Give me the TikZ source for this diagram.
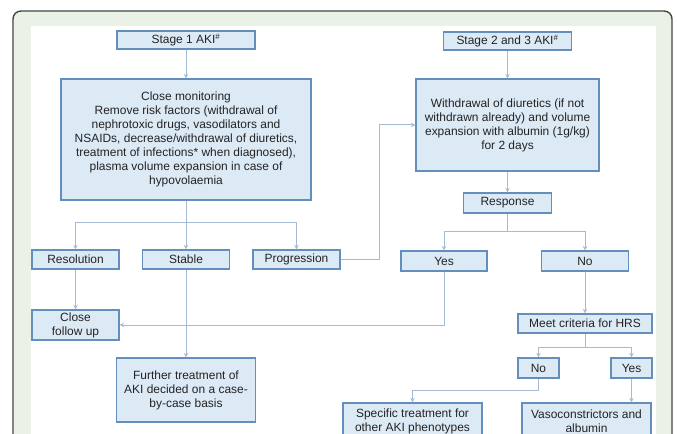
\documentclass[tikz,border=0pt]{standalone}
\usepackage{fontspec}
\setmainfont{Liberation Sans}
\usetikzlibrary{arrows.meta}
\definecolor{boxfill}{RGB}{220,234,246}
\definecolor{boxdraw}{RGB}{100,142,188}
\definecolor{conn}{RGB}{164,187,210}
\definecolor{txt}{RGB}{35,35,35}
\definecolor{framebg}{RGB}{234,242,232}
\definecolor{framedraw}{RGB}{70,70,70}
\tikzset{
  bx/.style={draw=boxdraw, fill=boxfill, line width=1.2bp, inner sep=0pt, align=center,
    text=txt, font=\fontsize{12}{14}\selectfont},
  con/.style={draw=conn, line width=1bp},
  arr/.style={con, -{Stealth[length=4.5bp,width=4.5bp]}}
}
\begin{document}
\begin{tikzpicture}[x=1bp,y=-1bp]
\useasboundingbox (0,0) rectangle (677,434);
\clip (0,0) rectangle (677,434);
\fill[white] (0,0) rectangle (677,434);
\draw[rounded corners=8bp, fill=framebg, draw=framedraw, line width=1.4bp] (13,11) rectangle (672,470);
\fill[white] (31,26) rectangle (656,470);

% left column
\node[bx, minimum width=138bp, minimum height=18bp] (s1) at (186,40) {Stage 1 AKI\textsuperscript{\#}};
\node[bx, minimum width=250bp, minimum height=121bp] (cm) at (186,139.5)
  {Close monitoring\\Remove risk factors (withdrawal of\\nephrotoxic drugs, vasodilators and\\NSAIDs, decrease/withdrawal of diuretics,\\treatment of infections* when diagnosed),\\plasma volume expansion in case of\\hypovolaemia};
\node[bx, minimum width=87bp, minimum height=19bp] (res) at (75.5,259.5) {Resolution};
\node[bx, minimum width=87bp, minimum height=19bp] (stab) at (186,259.5) {Stable};
\node[bx, minimum width=87bp, minimum height=19bp] (prog) at (296.5,259.5) {Progression};
\node[bx, minimum width=87bp, minimum height=30bp] (cfu) at (75.5,325) {Close\\follow up};
\node[bx, minimum width=139bp, minimum height=64bp] (ft) at (186,390) {Further treatment of\\AKI decided on a case-\\by-case basis};

% right column
\node[bx, minimum width=128bp, minimum height=18bp] (s2) at (507.5,41) {Stage 2 and 3 AKI\textsuperscript{\#}};
\node[bx, minimum width=183bp, minimum height=92bp] (wd) at (507.5,125)
  {Withdrawal of diuretics (if not\\withdrawn already) and volume\\expansion with albumin (1g/kg)\\for 2 days};
\node[bx, minimum width=88bp, minimum height=20bp] (resp) at (507.5,203) {Response};
\node[bx, minimum width=86bp, minimum height=20bp] (yes) at (444,261) {Yes};
\node[bx, minimum width=87bp, minimum height=20bp] (no) at (585,261) {No};
\node[bx, minimum width=134bp, minimum height=19bp] (hrs) at (585,323.5) {Meet criteria for HRS};
\node[bx, minimum width=41bp, minimum height=20bp] (sno) at (538.5,368) {No};
\node[bx, minimum width=41bp, minimum height=20bp] (syes) at (631.5,368) {Yes};
\node[bx, minimum width=139bp, minimum height=36bp] (spec) at (412.5,421) {Specific treatment for\\other AKI phenotypes};
\node[bx, minimum width=129bp, minimum height=36bp] (vaso) at (586.5,421) {Vasoconstrictors and\\albumin};

% coordinates
\coordinate (b1) at (186,223);
\coordinate (p1) at (379,125);
\coordinate (b2) at (507.5,232);
\coordinate (b3) at (585,347);
\coordinate (n1) at (538.5,390);

% connectors
\draw[arr] (s1) -- (cm);
\draw[arr] (s2) -- (wd);
\draw[con] (cm.south) -- (b1);
\draw[arr] (b1) -| (res.north);
\draw[arr] (b1) -| (prog.north);
\draw[arr] (b1) -- (stab.north);
\draw[arr] (res) -- (cfu);
\draw[arr] (stab) -- (ft);
\draw[arr] (prog.east) -| (p1) -- (wd.west);
\draw[arr] (wd) -- (resp);
\draw[con] (resp.south) -- (b2);
\draw[arr] (b2) -| (yes.north);
\draw[arr] (b2) -| (no.north);
\draw[arr] (yes.south) |- (cfu.east);
\draw[arr] (no) -- (hrs);
\draw[con] (hrs.south) -- (b3);
\draw[arr] (b3) -| (sno.north);
\draw[arr] (b3) -| (syes.north);
\draw[con] (sno.south) -- (n1);
\draw[arr] (n1) -| (spec.north);
\draw[arr] (syes.south) -- (syes.south |- vaso.north);
\end{tikzpicture}
\end{document}
